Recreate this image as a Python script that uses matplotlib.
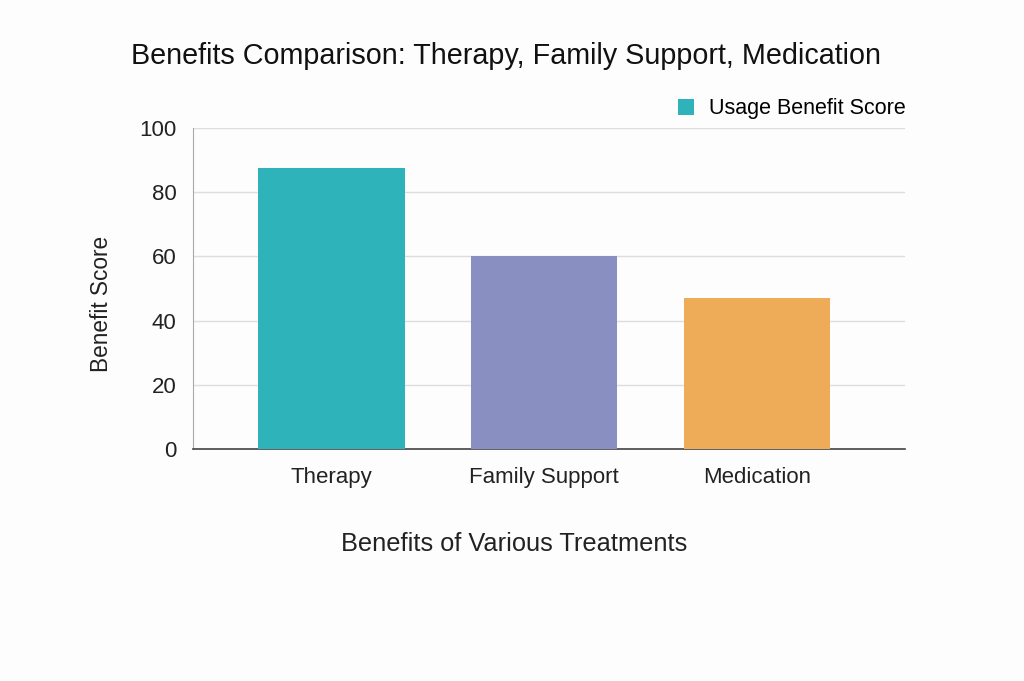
import matplotlib
matplotlib.use("Agg")
import matplotlib.pyplot as plt
from matplotlib.patches import Patch

categories = ["Therapy", "Family Support", "Medication"]
scores = [87.5, 60, 47]
bar_colors = ["#2fb3bb", "#8a8fc2", "#eeab58"]
yticks = [0, 20, 40, 60, 80, 100]
series_name = "Usage Benefit Score"

plt.rcParams['font.family'] = ['Liberation Sans', 'DejaVu Sans']

fig = plt.figure(figsize=(10.24, 6.81), dpi=100)
fig.patch.set_facecolor("#fdfdfd")
ax = fig.add_axes([0.1885, 0.3407, 0.6953, 0.4714])
ax.set_facecolor("#fdfdfd")

x = list(range(len(categories)))
ax.bar(x, scores, width=0.69, color=bar_colors, zorder=3)

ax.set_xlim(-0.648, 2.695)
ax.set_ylim(0, 100)
ax.set_yticks(yticks)
ax.set_xticks(x)
ax.set_xticklabels(categories, fontsize=16)
ax.tick_params(axis='both', length=0, colors="#222222")
ax.tick_params(axis='y', pad=12, labelsize=16)
ax.tick_params(axis='x', pad=13)

ax.grid(axis='y', color="#dddddd", linewidth=1, zorder=0)
for side in ["top", "right"]:
    ax.spines[side].set_visible(False)
ax.spines["left"].set_color("#aaaaaa")
ax.spines["bottom"].set_color("#444444")
ax.spines["bottom"].set_linewidth(1.2)

fig.text(0.099, 0.553, "Benefit Score", rotation=90, ha='center', va='center',
         fontsize=16.3, color="#222222")
fig.text(0.502, 0.201, "Benefits of Various Treatments", ha='center', va='center',
         fontsize=18.3, color="#222222")
fig.text(0.494, 0.918, "Benefits Comparison: Therapy, Family Support, Medication",
         ha='center', va='center', fontsize=20.7, color="#111111")

handle = Patch(facecolor=bar_colors[0], label=series_name)
ax.legend(handles=[handle], loc='lower right', bbox_to_anchor=(1.013, 1.0),
          frameon=False, fontsize=15.5, handlelength=0.75, handleheight=0.75,
          handletextpad=0.7, borderaxespad=0.2, borderpad=0.2)

fig.savefig("out.png", dpi=100, facecolor=fig.get_facecolor())
